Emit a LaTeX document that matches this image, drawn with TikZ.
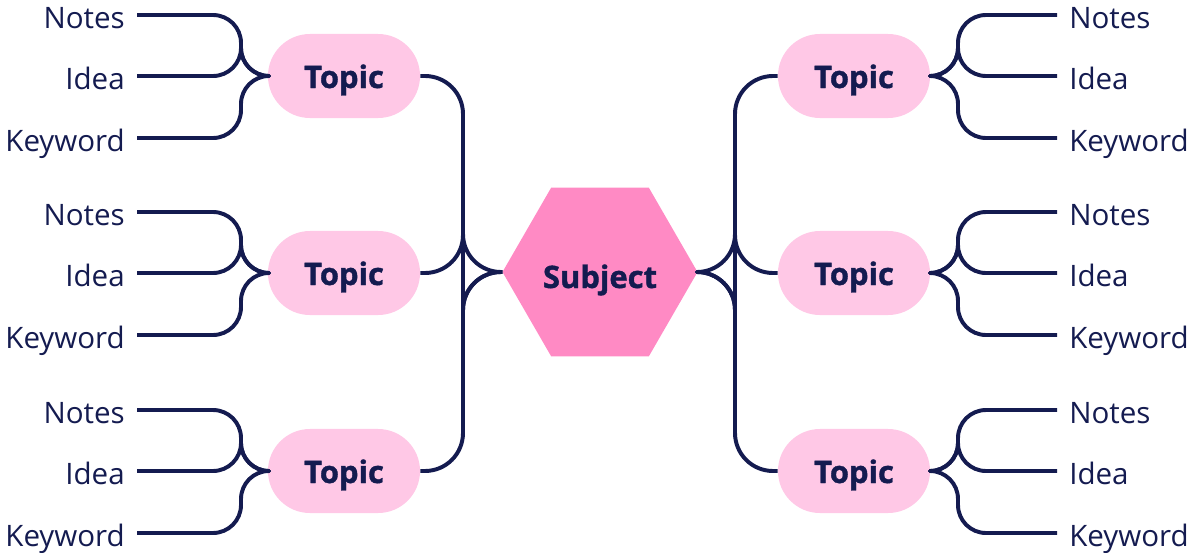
\documentclass[tikz,border=0pt]{standalone}
\usepackage{fontspec}
\setmainfont{Open Sans}
\usepackage{tikz}
\usetikzlibrary{shapes.geometric}

\definecolor{navy}{RGB}{20,27,80}
\definecolor{topicpink}{RGB}{255,200,230}
\definecolor{subjpink}{RGB}{255,138,196}

\tikzset{
	link/.style={draw=navy,line width=2.8pt,line join=round},
	topic/.style={fill=topicpink,rounded corners=1.05cm,minimum width=3.8cm,minimum height=2.1cm,
		text height=0.6cm,text depth=0pt,
		text=navy,font=\fontsize{22}{26}\selectfont\bfseries\addfontfeature{FakeBold=1.2}},
	subject/.style={regular polygon,regular polygon sides=6,minimum size=4.875cm,inner sep=0pt,outer sep=0pt,
		text height=0.8cm,text depth=0pt,
		fill=subjpink,text=navy,font=\fontsize{22}{26}\selectfont\bfseries\addfontfeature{FakeBold=1.2}},
	leaf/.style={text=navy,inner xsep=0.3cm,inner ysep=0pt,text height=0.65cm,text depth=0pt,
		font=\fontsize{21}{25}\selectfont}
}

\begin{document}
\begin{tikzpicture}[x=0.025cm,y=-0.025cm]
		\useasboundingbox (0,0) rectangle (1199,553);
		\node[subject] (subj) at (600,272) {Subject};
		\coordinate (lbus) at (463,272); % where the left topics join
		\coordinate (rbus) at (735,272); % where the right topics join
		\foreach \ty [count=\i] in {76,273,471} { % one row per topic pair
		\node[topic] (tl\i) at (344,\ty) {Topic};
		\node[topic] (tr\i) at (854,\ty) {Topic};
		\coordinate (kl\i) at (241,\ty);
		\coordinate (kr\i) at (958,\ty);
		\draw[link,rounded corners=0.95cm] (tl\i.east) -| (lbus) -- (subj.west);
		\draw[link,rounded corners=0.95cm] (subj.east) -- (rbus) |- (tr\i.west);
		\foreach \lab/\dy [count=\j] in {Notes/-61,Idea/0,Keyword/62} { % the three leaves
		\node[leaf,anchor=east] (ll\i\j) at (137,{\ty+\dy}) {\lab};
		\node[leaf,anchor=west] (lr\i\j) at (1057,{\ty+\dy}) {\lab};
		\draw[link,rounded corners=0.7cm] (ll\i\j.east) -| (kl\i) -- (tl\i.west);
		\draw[link,rounded corners=0.7cm] (lr\i\j.west) -| (kr\i) -- (tr\i.east);
		}
		}
		\end{tikzpicture}
\end{document}
